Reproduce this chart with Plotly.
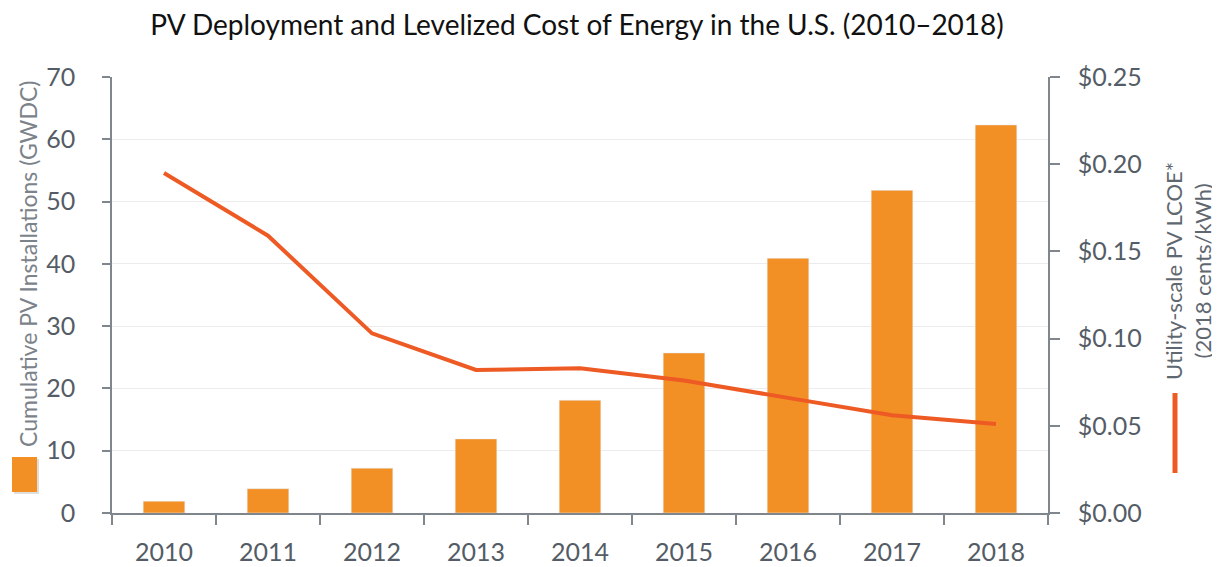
import plotly.graph_objects as go

years = ["2010", "2011", "2012", "2013", "2014", "2015", "2016", "2017", "2018"]
cumulative_gwdc = [1.9, 3.9, 7.2, 11.9, 18.1, 25.7, 40.9, 51.8, 62.3]
lcoe_usd_kwh = [0.195, 0.159, 0.103, 0.082, 0.083, 0.076, 0.066, 0.056, 0.051]
left_ticks = [0, 10, 20, 30, 40, 50, 60, 70]
right_ticks = [0.0, 0.05, 0.10, 0.15, 0.20, 0.25]
right_tick_text = ["$0.00", "$0.05", "$0.10", "$0.15", "$0.20", "$0.25"]

BAR = "#F39025"
LINE = "#EE5A24"
TXT = "#545c66"
AX = "#7f868e"
FONT = "Lato"

# page body has an 8px default margin; compensate so the plot lands where the reference has it
OFF = 8
W, H = 1220 - OFF, 567 - OFF

fig = go.Figure()
fig.add_trace(go.Bar(x=years, y=cumulative_gwdc, marker_color=BAR, width=0.4,
                     name="Cumulative PV Installations (GWDC)", yaxis="y"))
fig.add_trace(go.Scatter(x=years, y=lcoe_usd_kwh, mode="lines",
                         line=dict(color=LINE, width=4), yaxis="y2",
                         name="Utility-scale PV LCOE*"))

fig.update_layout(
    width=W, height=H,
    margin=dict(l=112 - OFF, r=172, t=77 - OFF, b=54, autoexpand=False),
    paper_bgcolor="white", plot_bgcolor="white",
    showlegend=False,
    font=dict(family=FONT, color=TXT),
    title=dict(text="PV Deployment and Levelized Cost of Energy in the U.S. (2010–2018)",
               font=dict(family=FONT, size=28, color="#111111"),
               x=(577 - OFF) / W, xref="container", xanchor="center",
               y=1 - (25 - OFF) / H, yref="container", yanchor="middle"),
    xaxis=dict(type="category", showline=True, linecolor=AX, linewidth=1.5,
               ticks="outside", tickson="boundaries", ticklen=10, tickcolor=AX,
               tickwidth=1.5, tickfont=dict(size=25, color=TXT, family=FONT),
               ticklabelstandoff=16, showgrid=False),
    yaxis=dict(range=[0, 70], tickvals=left_ticks, showline=True, linecolor=AX,
               linewidth=1.5, ticks="outside", ticklen=8, tickcolor=AX, tickwidth=1.5,
               tickfont=dict(size=25, color=TXT, family=FONT), ticklabelstandoff=22,
               showgrid=True, gridcolor="#ececec", gridwidth=1, zeroline=False),
    yaxis2=dict(range=[0, 0.25], tickvals=right_ticks, ticktext=right_tick_text,
                overlaying="y", side="right", showline=True, linecolor=AX,
                linewidth=1.5, ticks="outside", ticklen=10, tickcolor=AX, tickwidth=1.5,
                tickfont=dict(size=25, color=TXT, family=FONT), ticklabelstandoff=13,
                showgrid=False, zeroline=False),
    bargap=0.6,
)

fig.add_annotation(text="Cumulative PV Installations (GWDC)", xref="paper", yref="paper",
                   x=(28 - 112) / 936, y=(513 - 264) / 436, textangle=-90,
                   showarrow=False, font=dict(family=FONT, size=23, color="#7b828a"),
                   xanchor="center", yanchor="middle")
fig.add_annotation(text="Utility-scale PV LCOE*<br>(2018 cents/kWh)", xref="paper", yref="paper",
                   x=(1188 - 112) / 936, y=(513 - 271) / 436, textangle=-90,
                   showarrow=False, font=dict(family=FONT, size=22, color="#5f6770"),
                   xanchor="center", yanchor="middle")

# legend swatches
fig.add_shape(type="rect", xref="paper", yref="paper",
              x0=(14 - 112) / 936, x1=(39 - 112) / 936,
              y0=(513 - 494) / 436, y1=(513 - 459) / 436,
              fillcolor="#c8c8c8", line_width=0, opacity=0.6)
fig.add_shape(type="rect", xref="paper", yref="paper",
              x0=(12 - 112) / 936, x1=(37 - 112) / 936,
              y0=(513 - 492) / 436, y1=(513 - 457) / 436,
              fillcolor=BAR, line_width=0)
fig.add_shape(type="line", xref="paper", yref="paper",
              x0=(1175 - 112) / 936, x1=(1175 - 112) / 936,
              y0=(513 - 473) / 436, y1=(513 - 393) / 436,
              line=dict(color=LINE, width=5))

fig.write_html("out.html")
